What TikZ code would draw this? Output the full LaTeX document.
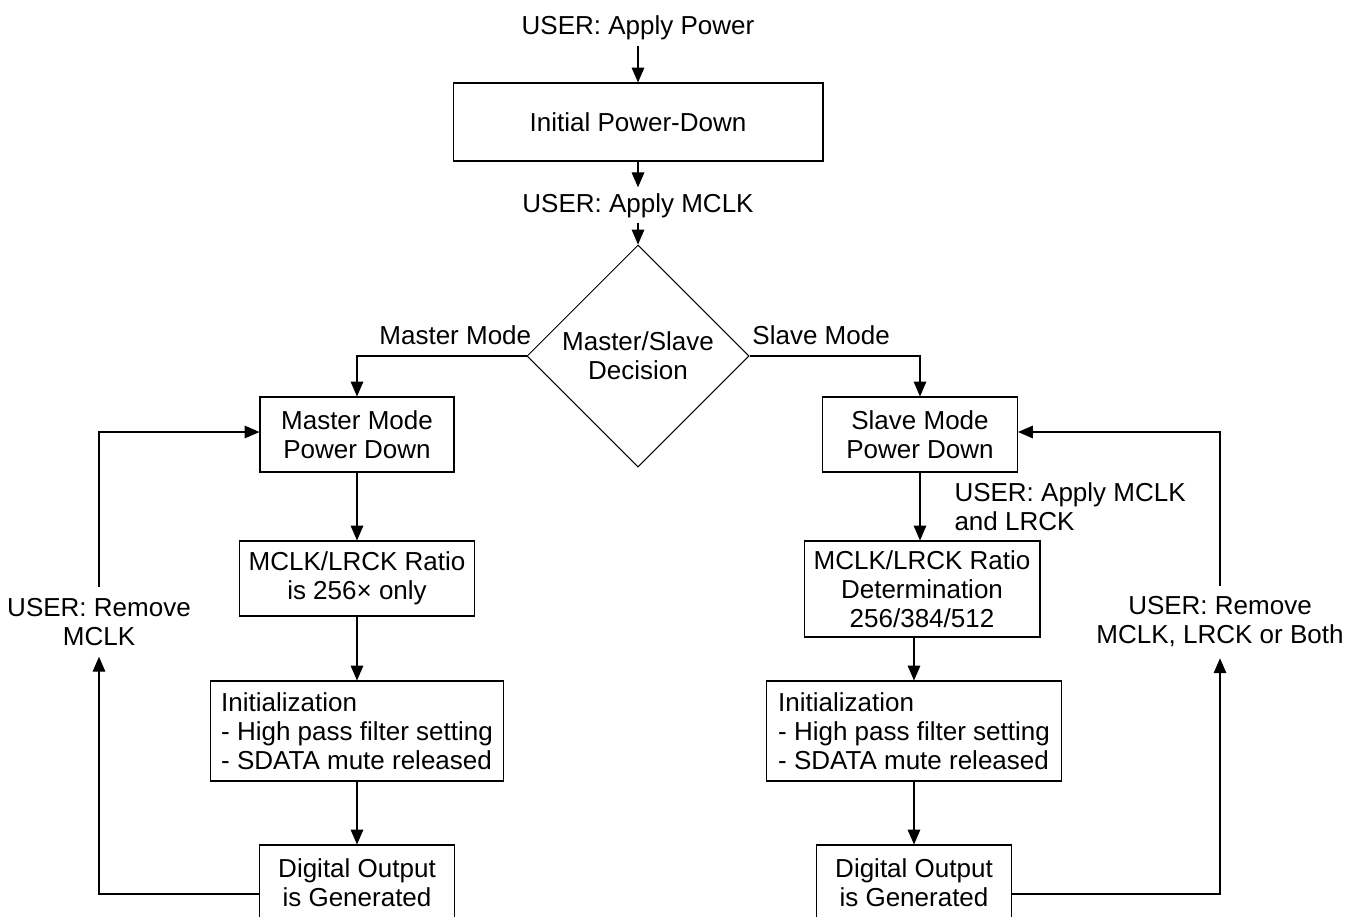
\documentclass[tikz,border=0pt]{standalone}
\usepackage{fontspec}
\setmainfont{Liberation Sans}
\usetikzlibrary{shapes.geometric,arrows.meta}
\tikzset{stage/.style={draw,rectangle,inner sep=2pt},
    user/.style={inner sep=3pt,align=center},
    flow/.style={-{Triangle[length=8.5pt,width=7.2pt]}}}
\newcommand{\flowbox}[7][align=center]{\node[stage,#1,minimum width=#5cm,minimum height=#6cm] (#2) at (#3,#4) {#7};}
\newcommand{\linkv}[2]{\draw[flow] (#1) -- (#2);}

\begin{document}
\begin{tikzpicture}[x=0.02cm,y=-0.02cm,line width=0.6pt,font=\fontsize{14.8}{16.5}\selectfont]
    \useasboundingbox (0,0) rectangle (1345,916);
    \node[user,anchor=base] (pwr) at (638,34.5) {USER: Apply Power};
    \flowbox{init}{638}{122}{7.4}{1.56}{Initial Power-Down}
    \node[user,anchor=base] (mclk) at (638,212) {USER: Apply MCLK};
    \node[draw,diamond,inner sep=0pt,minimum size=4.44cm,align=center] (dec) at (638,356) {Master/Slave\\Decision};
    \linkv{pwr}{init}\linkv{init}{mclk}\linkv{mclk}{dec}
    % master mode
    \flowbox{mpd}{357}{434.5}{3.88}{1.5}{Master Mode\\Power Down}
    \flowbox{mratio}{357}{578.5}{4.7}{1.5}{MCLK/LRCK Ratio\\is 256× only}
    \flowbox[align=left]{minit}{357}{731}{5.86}{2.0}{Initialization\\- High pass filter setting\\- SDATA mute released}
    \flowbox{mdig}{357}{883}{3.9}{1.52}{Digital Output\\is Generated}
    \draw[flow] (dec.west) -| node[pos=0.21,above=3pt] (mmode) {Master Mode} (mpd.north);
    \linkv{mpd}{mratio}\linkv{mratio}{minit}\linkv{minit}{mdig}
    \node[user,inner ysep=6pt] (rmm) at (99,622) {USER: Remove\\MCLK};
    \draw[flow] ([yshift=-0.22cm]mdig.west) -| (rmm.south);
    \draw[flow] (rmm.north) |- ([yshift=0.05cm]mpd.west);
    % slave mode
    \flowbox{spd}{920}{434.5}{3.9}{1.5}{Slave Mode\\Power Down}
    \flowbox{sratio}{922}{589}{4.72}{1.92}{MCLK/LRCK Ratio\\Determination\\256/384/512}
    \flowbox[align=left]{sinit}{914}{731}{5.9}{2.0}{Initialization\\- High pass filter setting\\- SDATA mute released}
    \flowbox{sdig}{914}{883}{3.9}{1.52}{Digital Output\\is Generated}
    \draw[flow] (dec.east) -| node[pos=0.21,above=3pt] (smode) {Slave Mode} (spd.north);
    \draw[flow] (spd.south) -- node[right=16pt,align=left] (slr) {USER: Apply MCLK\\and LRCK} (spd.south |- sratio.north);
    \draw[flow] (sinit.north |- sratio.south) -- (sinit.north);
    \linkv{sinit}{sdig}
    \node[user,inner ysep=6pt] (rsb) at (1220,622) {USER: Remove\\MCLK, LRCK or Both};
    \draw[flow] ([yshift=-0.22cm]sdig.east) -| (rsb.south);
    \draw[flow] (rsb.north) |- ([yshift=0.05cm]spd.east);
\end{tikzpicture}
\end{document}
